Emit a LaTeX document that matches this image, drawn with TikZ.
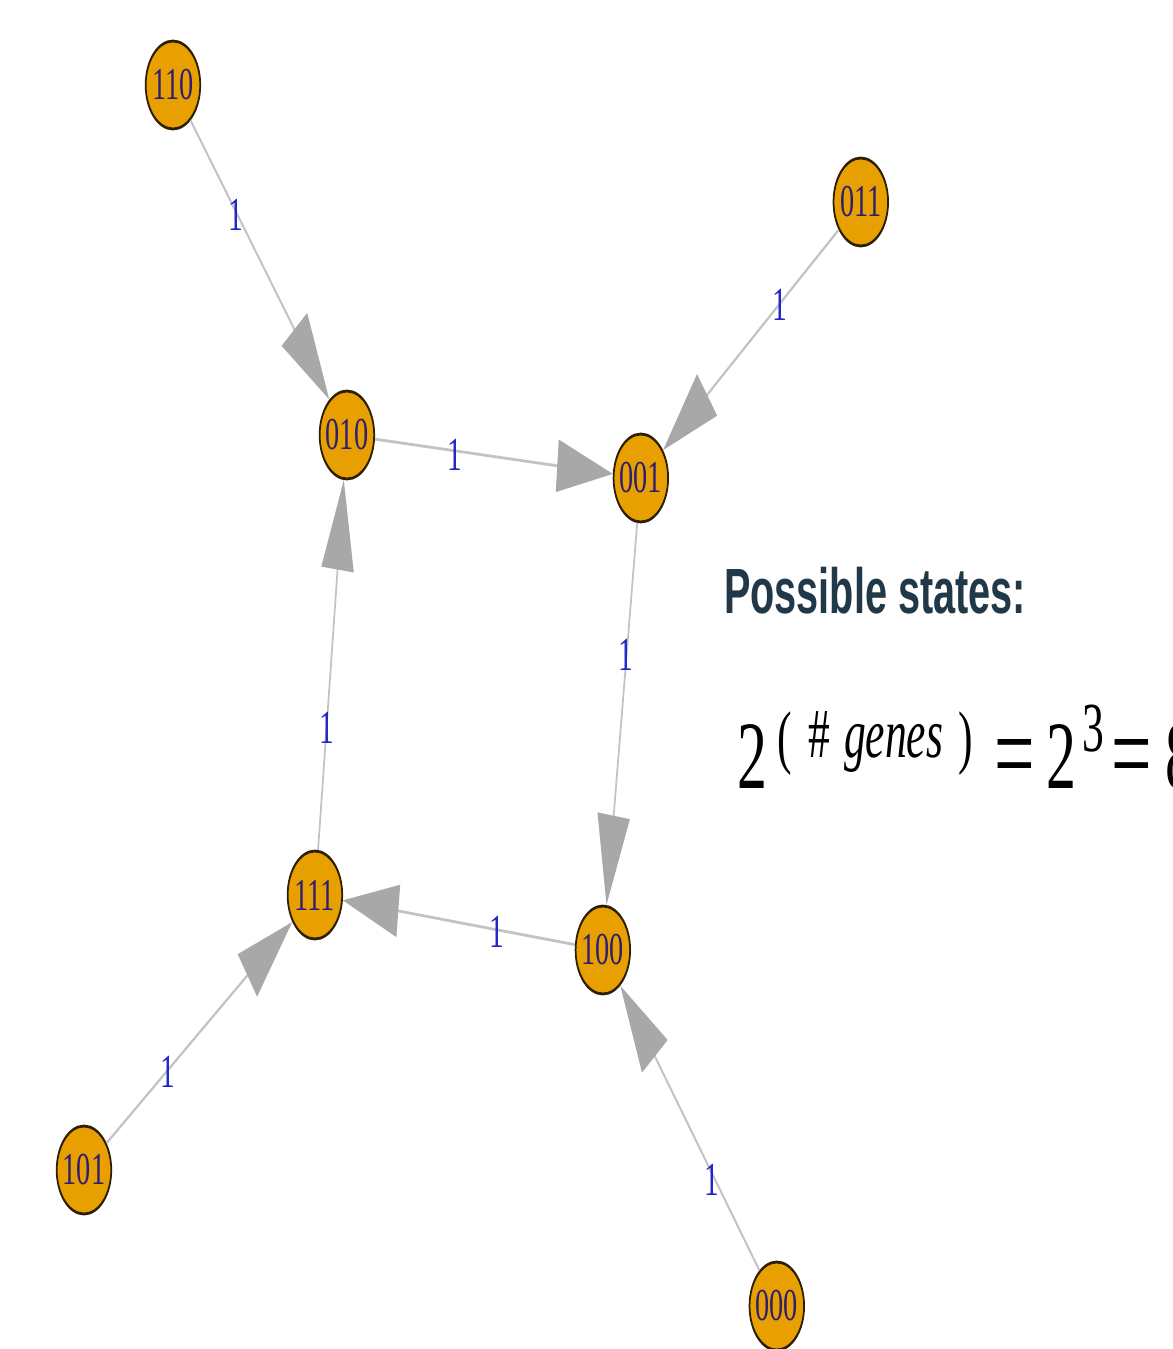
\documentclass[tikz,border=0pt]{standalone}
\usepackage{fontspec}
\setmainfont{Liberation Serif}
\newfontfamily\sansbold{Liberation Sans}
\usetikzlibrary{arrows.meta}
\definecolor{nodefill}{RGB}{232,160,0}
\definecolor{nodeborder}{RGB}{45,30,5}
\definecolor{nodetext}{RGB}{45,30,115}
\definecolor{labelblue}{RGB}{35,40,200}
\definecolor{edgegray}{RGB}{195,195,195}
\definecolor{tipgray}{RGB}{168,168,168}
\definecolor{titlecol}{RGB}{32,56,72}
\tikzset{
  state/.style={circle, fill=nodefill, draw=nodeborder, line width=1.6pt,
    minimum size=1.76cm, inner sep=0pt, text=nodetext,
    font=\fontsize{26}{26}\selectfont},
  elabel/.style={text=labelblue, inner sep=0pt, font=\fontsize{27}{27}\selectfont},
  edge/.style={draw=edgegray, line width=1.6pt,
    -{Triangle[length=1.8cm, width=1.04cm, fill=tipgray, color=tipgray]}},
  bigf/.style={inner sep=0pt, anchor=base west, font=\fontsize{55}{55}\selectfont},
  eqf/.style={inner sep=0pt, anchor=base west, font=\fontsize{66}{66}\selectfont},
  supf/.style={inner sep=0pt, anchor=base west, font=\fontsize{40}{40}\selectfont},
}
\begin{document}
\begin{tikzpicture}[x=0.02cm, y=-0.02cm]
\useasboundingbox (0,0) rectangle (1173,1349);
\clip (0,0) rectangle (1173,1349);
\begin{scope}[transform canvas={xscale=0.62}, x=0.032258cm]
  % states
  \node[state] (n110) at (173,85) {110};
  \node[state] (n011) at (861,202) {011};
  \node[state] (n010) at (347,435) {010};
  \node[state] (n001) at (641,478) {001};
  \node[state] (n111) at (315,895) {111};
  \node[state] (n100) at (603,950) {100};
  \node[state] (n101) at (84,1170) {101};
  \node[state] (n000) at (777,1306) {000};
  % transitions
  \draw[edge] (n110) -- (n010);
  \draw[edge] (n011) -- (n001);
  \draw[edge] (n010) -- (n001);
  \draw[edge] (n001) -- (n100);
  \draw[edge] (n111) -- (n010);
  \draw[edge] (n100) -- (n111);
  \draw[edge] (n101) -- (n111);
  \draw[edge] (n000) -- (n100);
  % edge labels
  \node[elabel] (l1) at (236,215) {1};
  \node[elabel] (l2) at (780,305) {1};
  \node[elabel] (l3) at (455,455) {1};
  \node[elabel] (l4) at (626,655) {1};
  \node[elabel] (l5) at (327,728) {1};
  \node[elabel] (l6) at (497,932) {1};
  \node[elabel] (l7) at (168,1072) {1};
  \node[elabel] (l8) at (712,1180) {1};
  % text
  \node[inner sep=0pt, anchor=base west, text=titlecol,
    font=\sansbold\bfseries\fontsize{36.4}{36}\selectfont] (title) at (724,613) {Possible states:};
  \node[bigf] (f1) at (737,788) {2};
  \node[supf] (f2) at (777,760) {(};
  \node[supf] (f3) at (808,757) {\#};
  \node[supf] (f4) at (844,757) {\textit{genes}};
  \node[supf] (f5) at (958,760) {)};
  \node[eqf] (f6) at (994,792) {=};
  \node[bigf] (f7) at (1047,788) {2};
  \node[supf] (f8) at (1083,751) {3};
  \node[eqf] (f9) at (1112,792) {=};
  \node[bigf] (f10) at (1166,788) {8};
\end{scope}
\end{tikzpicture}
\end{document}
